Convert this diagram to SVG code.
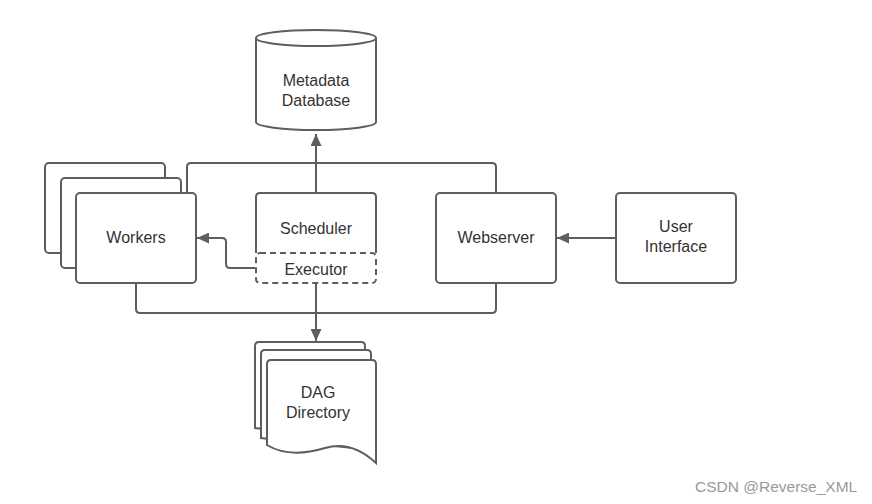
<svg xmlns="http://www.w3.org/2000/svg" width="872" height="504" viewBox="0 0 872 504">
<style>
.s{fill:#fff;stroke:#5e5e5e;stroke-width:2}
.c{fill:none;stroke:#5e5e5e;stroke-width:2}
.d{fill:none;stroke:#5e5e5e;stroke-width:2;stroke-dasharray:6,4}
.t{font-family:"Liberation Sans",Arial,sans-serif;font-size:16px;fill:#333;text-anchor:middle}
.w{font-family:"Liberation Sans",Arial,sans-serif;font-size:15.5px;fill:#999;text-anchor:start}
</style>
<defs>
<marker id="ah" markerUnits="userSpaceOnUse" markerWidth="13" markerHeight="11" refX="12" refY="5.5" orient="auto">
<path d="M0,0 L12,5.5 L0,11 z" fill="#5e5e5e"/>
</marker>
</defs>
<rect width="872" height="504" fill="#fff"/>
<g id="connectors">
<path class="c" d="M187,193 V167 Q187,163 191,163 H492 Q496,163 496,167 V193"/>
<path class="c" d="M316,192 V134" marker-end="url(#ah)"/>
<path class="c" d="M136,283 V309 Q136,313 140,313 H492 Q496,313 496,309 V283"/>
<path class="c" d="M316,283 V341" marker-end="url(#ah)"/>
<path class="c" d="M255,268 H230 Q226,268 226,264 V242 Q226,238 222,238 H197" marker-end="url(#ah)"/>
<path class="c" d="M615,238 H557" marker-end="url(#ah)"/>
</g>
<g id="metadata-db">
<path class="s" d="M256,38 V122 A60,8 0 0 0 376,122 V38 A60,8 0 0 0 256,38 A60,8 0 0 0 376,38"/>
<text class="t" x="316" y="86">Metadata</text>
<text class="t" x="316" y="106">Database</text>
</g>
<g id="workers">
<rect class="s" x="45" y="163" width="120" height="90" rx="4"/>
<rect class="s" x="61" y="178" width="120" height="90" rx="4"/>
<rect class="s" x="76" y="193" width="120" height="90" rx="4"/>
<text class="t" x="136" y="243">Workers</text>
</g>
<g id="scheduler">
<path class="c" d="M256,253 V197 Q256,193 260,193 H372 Q376,193 376,197 V253"/>
<rect class="d" x="256" y="253" width="120" height="30" rx="4"/>
<text class="t" x="316" y="234">Scheduler</text>
<text class="t" x="316" y="275">Executor</text>
</g>
<g id="webserver">
<rect class="s" x="436" y="193" width="120" height="90" rx="4"/>
<text class="t" x="496" y="243">Webserver</text>
</g>
<g id="user-interface">
<rect class="s" x="616" y="193" width="120" height="90" rx="4"/>
<text class="t" x="676" y="232">User</text>
<text class="t" x="676" y="252">Interface</text>
</g>
<g id="dag-directory">
<path class="s" d="M255,428 V346 Q255,342 259,342 H361 Q365,342 365,346 V440 Z"/>
<path class="s" d="M261,438 V354 Q261,350 265,350 H367 Q371,350 371,354 V450 Z"/>
<path class="s" d="M267,445 V364 Q267,360 271,360 H372 Q376,360 376,364 V463 C362,450 345,442 325,448 C305,454 285,456 267,445 Z"/>
<text class="t" x="318" y="398">DAG</text>
<text class="t" x="318" y="418">Directory</text>
</g>
<text class="w" x="695" y="492">CSDN @Reverse_XML</text>
</svg>
